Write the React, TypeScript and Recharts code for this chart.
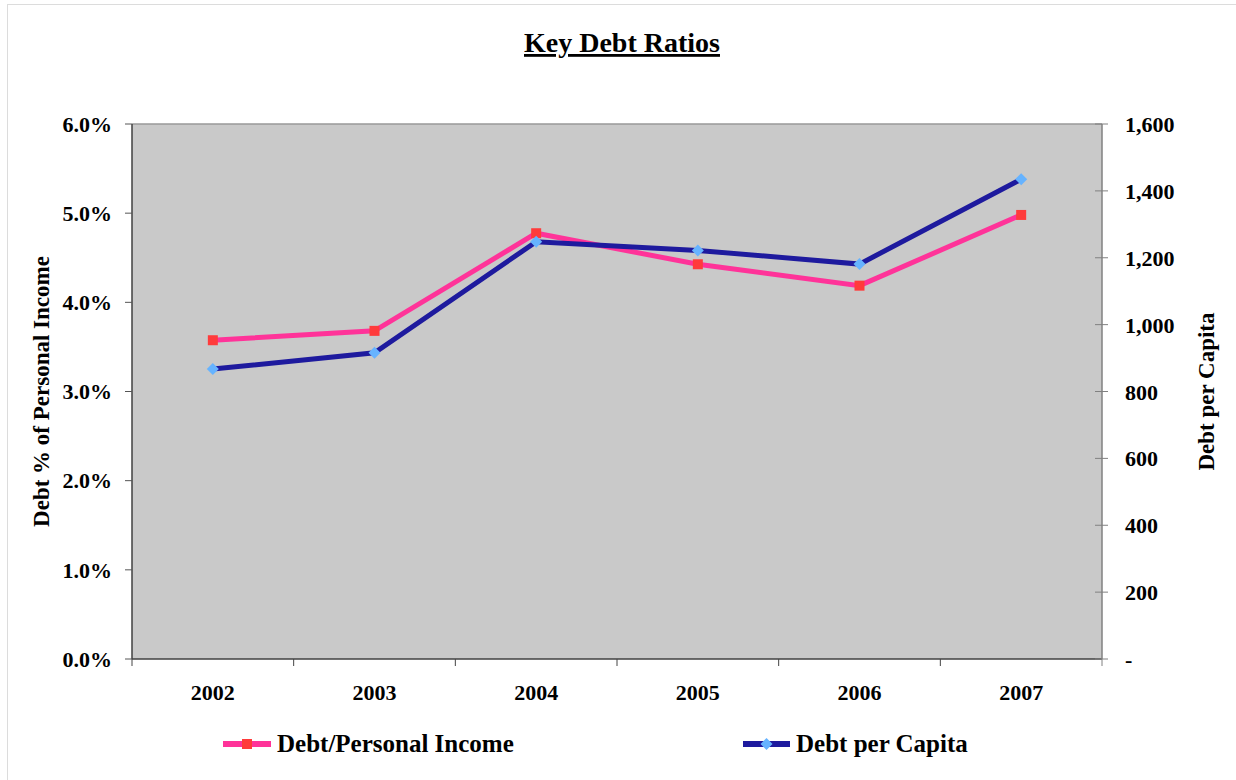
import React from 'react';
import {
  LineChart, Line, XAxis, YAxis, CartesianGrid, Legend, ReferenceLine, Customized,
} from 'recharts';

const years = ['2002', '2003', '2004', '2005', '2006', '2007'];
const debtToIncome = [0.03575, 0.0368, 0.04775, 0.04427, 0.04187, 0.0498];
const debtPerCapita = [867, 916, 1248, 1222, 1181, 1435];
const leftTicks = [0, 0.01, 0.02, 0.03, 0.04, 0.05, 0.06];
const rightTicks = [0, 200, 400, 600, 800, 1000, 1200, 1400, 1600];

const data = years.map((y, i) => ({ year: y, ratio: debtToIncome[i], perCapita: debtPerCapita[i] }));

const FONT = '"Liberation Serif", "Times New Roman", serif';
const PINK = '#FF3399';
const RED = '#FF3B3B';
const NAVY = '#1E1A9E';
const LIGHTBLUE = '#66B3FF';
const W = 1236;
const H = 780;
const PLOT_LEFT = 132;
const PLOT_RIGHT = 1102;
const STEP = (PLOT_RIGHT - PLOT_LEFT) / years.length;

const XTick = (props: any) => {
  const { x, y, payload, index } = props;
  return (
    <g>
      <line x1={x - STEP / 2} y1={y} x2={x - STEP / 2} y2={y + 7} stroke="#444" strokeWidth={1} />
      {index === years.length - 1 && (
        <line x1={x + STEP / 2} y1={y} x2={x + STEP / 2} y2={y + 7} stroke="#808080" strokeWidth={1} />
      )}
      <text x={x} y={y + 41} textAnchor="middle" fontFamily={FONT} fontWeight="bold" fontSize={22} fill="#000">
        {payload.value}
      </text>
    </g>
  );
};

const RightTick = (props: any) => {
  const { x, y, payload } = props;
  const v = payload.value;
  const label = v === 0 ? '-' : v.toLocaleString('en-US');
  return (
    <g>
      <line x1={x - 7} y1={y} x2={x + 6} y2={y} stroke="#808080" strokeWidth={1} />
      <text x={x + 23} y={y + 8} textAnchor="start" fontFamily={FONT} fontWeight="bold" fontSize={22} fill="#000">
        {label}
      </text>
    </g>
  );
};

const SquareDot = (props: any) => {
  const { cx, cy, index } = props;
  return <rect key={`sq-${index}`} x={cx - 5} y={cy - 5} width={10} height={10} fill={RED} />;
};

const DiamondDot = (props: any) => {
  const { cx, cy, index } = props;
  return (
    <polygon
      key={`dm-${index}`}
      points={`${cx},${cy - 6} ${cx + 6},${cy} ${cx},${cy + 6} ${cx - 6},${cy}`}
      fill={LIGHTBLUE}
    />
  );
};

const renderLegend = () => (
  <div style={{ position: 'relative', width: W, height: 40, fontFamily: FONT }}>
    <div style={{ position: 'absolute', left: 223, top: 0, height: 40, display: 'flex', alignItems: 'center' }}>
      <svg width={48} height={14} style={{ display: 'block' }}>
        <line x1={0} y1={7} x2={48} y2={7} stroke={PINK} strokeWidth={6} />
        <rect x={19} y={2} width={10} height={10} fill={RED} />
      </svg>
      <span style={{ marginLeft: 6, fontSize: 25, fontWeight: 'bold', color: '#000', whiteSpace: 'nowrap' }}>
        Debt/Personal Income
      </span>
    </div>
    <div style={{ position: 'absolute', left: 743, top: 0, height: 40, display: 'flex', alignItems: 'center' }}>
      <svg width={47} height={14} style={{ display: 'block' }}>
        <line x1={0} y1={7} x2={47} y2={7} stroke={NAVY} strokeWidth={6} />
        <polygon points="23.5,1 29.5,7 23.5,13 17.5,7" fill={LIGHTBLUE} />
      </svg>
      <span style={{ marginLeft: 6, fontSize: 25, fontWeight: 'bold', color: '#000', whiteSpace: 'nowrap' }}>
        Debt per Capita
      </span>
    </div>
  </div>
);

const Title = () => (
  <text
    x={622}
    y={52}
    textAnchor="middle"
    fontFamily={FONT}
    fontWeight="bold"
    fontSize={28}
    fill="#000"
    textDecoration="underline"
    style={{ textDecoration: 'underline' }}
  >
    Key Debt Ratios
  </text>
);

export default function App() {
  return (
    <div style={{ position: 'absolute', left: 0, top: 0, width: W, height: H, background: '#fff' }}>
      <div
        style={{
          position: 'absolute', left: 7, top: 4, right: 0, bottom: 0,
          borderTop: '1px solid #dcdcdc', borderLeft: '1px solid #dcdcdc',
        }}
      />
      <div style={{ position: 'absolute', left: 0, top: 0 }}>
        <LineChart width={W} height={H} data={data} margin={{ top: 124, right: 0, bottom: 16, left: 0 }}>
          <Customized component={Title} />
          <CartesianGrid horizontal={false} vertical={false} fill="#C9C9C9" yAxisId="left" />
          <XAxis
            dataKey="year"
            scale="band"
            height={65}
            tickSize={0}
            tickMargin={0}
            tickLine={false}
            axisLine={{ stroke: '#404040', strokeWidth: 1.5 }}
            tick={<XTick />}
            interval={0}
          />
          <YAxis
            yAxisId="left"
            orientation="left"
            width={132}
            domain={[0, 0.06]}
            ticks={leftTicks}
            interval={0}
            tickSize={7}
            tickMargin={13}
            tickLine={{ stroke: '#555' }}
            axisLine={{ stroke: '#404040', strokeWidth: 1.5 }}
            tickFormatter={(v: number) => `${(v * 100).toFixed(1)}%`}
            tick={{ fontFamily: FONT, fontWeight: 'bold', fontSize: 22, fill: '#000' }}
            label={{
              value: 'Debt % of Personal Income',
              angle: -90,
              position: 'insideLeft',
              offset: 41,
              textAnchor: 'middle',
              style: { fontFamily: FONT, fontWeight: 'bold', fontSize: 23, fill: '#000', textAnchor: 'middle' },
            }}
          />
          <YAxis
            yAxisId="right"
            orientation="right"
            width={134}
            domain={[0, 1600]}
            ticks={rightTicks}
            interval={0}
            tickSize={0}
            tickMargin={0}
            tickLine={false}
            axisLine={{ stroke: '#808080', strokeWidth: 1.5 }}
            tick={<RightTick />}
            label={{
              value: 'Debt per Capita',
              angle: -90,
              position: 'insideRight',
              offset: 30,
              textAnchor: 'middle',
              style: { fontFamily: FONT, fontWeight: 'bold', fontSize: 23, fill: '#000', textAnchor: 'middle' },
            }}
          />
          <ReferenceLine yAxisId="left" y={0.06} stroke="#999" strokeWidth={1.5} />
          <Legend verticalAlign="bottom" content={renderLegend} />
          <Line
            yAxisId="left"
            dataKey="ratio"
            stroke={PINK}
            strokeWidth={5}
            dot={<SquareDot />}
            activeDot={false}
            isAnimationActive={false}
          />
          <Line
            yAxisId="right"
            dataKey="perCapita"
            stroke={NAVY}
            strokeWidth={5}
            dot={<DiamondDot />}
            activeDot={false}
            isAnimationActive={false}
          />
        </LineChart>
      </div>
    </div>
  );
}
